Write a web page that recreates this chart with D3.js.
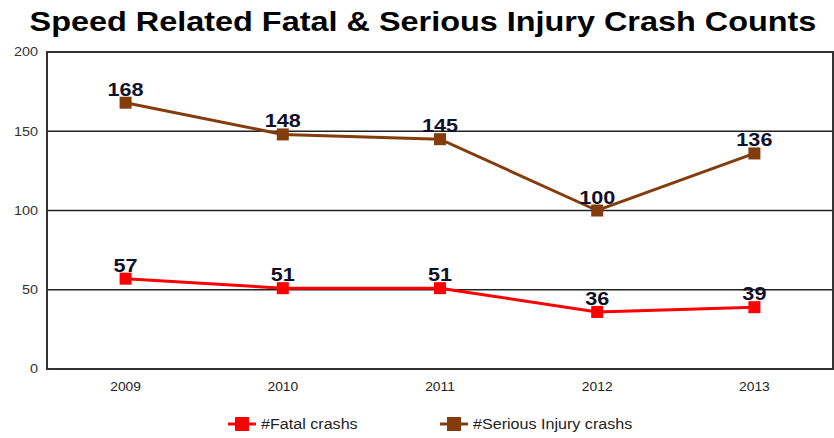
<!DOCTYPE html>
<html>
<head>
<meta charset="utf-8">
<script src="https://cdn.jsdelivr.net/npm/d3@7/dist/d3.min.js"></script>
<style>
  html, body { margin: 0; padding: 0; background: #fff; }
  svg { display: block; font-family: "Liberation Sans", Arial, sans-serif; }
</style>
</head>
<body>
<svg id="chart" width="834" height="438"></svg>
<script>
// Crash counts by year
const years = ["2009", "2010", "2011", "2012", "2013"];
const fatalCrashes = [57, 51, 51, 36, 39];
const seriousInjuryCrashes = [168, 148, 145, 100, 136];
const yTicks = [0, 50, 100, 150, 200];

const series = [
  { name: "#Fatal crashs", values: fatalCrashes, color: "#ff0000" },
  { name: "#Serious Injury crashs", values: seriousInjuryCrashes, color: "#843c0c" }
];

const svg = d3.select("#chart");
const plot = { left: 47, right: 833, top: 52, bottom: 369 };

const x = d3.scaleBand().domain(years).range([plot.left, plot.right]);
const y = d3.scaleLinear().domain([0, 200]).range([plot.bottom, plot.top]);

// Widen glyphs horizontally (the chart's text is set in a wide face)
function widen(sel, k) {
  sel.each(function () {
    const w = this.getComputedTextLength();
    d3.select(this).attr("textLength", w * k).attr("lengthAdjust", "spacingAndGlyphs");
  });
}

// Title
svg.append("text")
  .attr("x", 423).attr("y", 31)
  .attr("text-anchor", "middle")
  .attr("font-size", 27).attr("font-weight", "bold")
  .attr("fill", "#000")
  .text("Speed Related Fatal & Serious Injury Crash Counts")
  .call(widen, 1.2);

// Horizontal gridlines
svg.append("g")
  .selectAll("line")
  .data(yTicks.filter(d => d > 0 && d < 200))
  .join("line")
  .attr("x1", plot.left).attr("x2", plot.right)
  .attr("y1", d => y(d)).attr("y2", d => y(d))
  .attr("stroke", "#222").attr("stroke-width", 1.5);

// Plot frame
svg.append("rect")
  .attr("x", plot.left).attr("y", plot.top)
  .attr("width", plot.right - plot.left).attr("height", plot.bottom - plot.top)
  .attr("fill", "none").attr("stroke", "#333").attr("stroke-width", 2);

// Y axis labels
const yAxis = d3.axisLeft(y).tickValues(yTicks).tickSize(0).tickPadding(9);
svg.append("g")
  .attr("transform", `translate(${plot.left},0)`)
  .call(yAxis)
  .call(g => g.select(".domain").remove())
  .call(g => g.selectAll("text")
    .attr("font-size", 12).attr("fill", "#333")
    .attr("font-family", "'Liberation Sans', Arial, sans-serif")
    .call(widen, 1.2));

// X axis labels
const xAxis = d3.axisBottom(x).tickSize(0).tickPadding(13);
svg.append("g")
  .attr("transform", `translate(0,${plot.bottom})`)
  .call(xAxis)
  .call(g => g.select(".domain").remove())
  .call(g => g.selectAll("text")
    .attr("font-size", 12).attr("fill", "#222")
    .attr("font-family", "'Liberation Sans', Arial, sans-serif")
    .call(widen, 1.15));

const cx = d => x(d) + x.bandwidth() / 2;
const line = d3.line()
  .x((d, i) => cx(years[i]))
  .y(d => y(d));

series.forEach(s => {
  const g = svg.append("g");
  g.append("path")
    .datum(s.values)
    .attr("d", line)
    .attr("fill", "none")
    .attr("stroke", s.color)
    .attr("stroke-width", 3);
  g.selectAll("rect")
    .data(s.values)
    .join("rect")
    .attr("x", (d, i) => cx(years[i]) - 6)
    .attr("y", d => y(d) - 6)
    .attr("width", 12).attr("height", 12)
    .attr("fill", s.color);
  g.selectAll("text")
    .data(s.values)
    .join("text")
    .attr("x", (d, i) => cx(years[i]))
    .attr("y", d => y(d) - 7)
    .attr("text-anchor", "middle")
    .attr("font-size", 18).attr("font-weight", "bold")
    .attr("fill", "#10102a")
    .text(d => d)
    .call(widen, 1.2);
});

// Legend
const legendItems = [
  { s: series[0], x: 228 },
  { s: series[1], x: 440 }
];
const ly = 424;
legendItems.forEach(item => {
  const g = svg.append("g");
  g.append("line")
    .attr("x1", item.x).attr("x2", item.x + 28)
    .attr("y1", ly).attr("y2", ly)
    .attr("stroke", item.s.color).attr("stroke-width", 3);
  g.append("rect")
    .attr("x", item.x + 7).attr("y", ly - 7)
    .attr("width", 14).attr("height", 14)
    .attr("fill", item.s.color);
  g.append("text")
    .attr("x", item.x + 33).attr("y", ly + 5)
    .attr("font-size", 14).attr("fill", "#222")
    .text(item.s.name)
    .call(widen, 1.15);
});
</script>
</body>
</html>
